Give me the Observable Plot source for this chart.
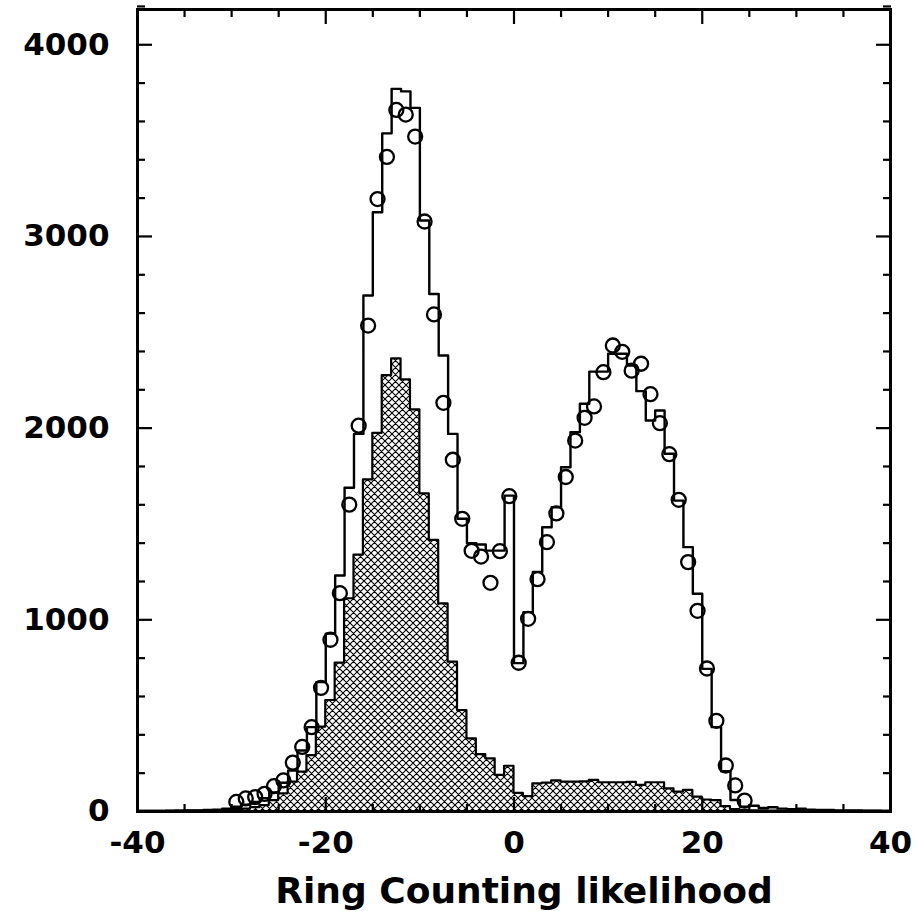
<!DOCTYPE html>
<html>
<head>
<meta charset="utf-8">
<script src="https://cdn.jsdelivr.net/npm/d3@7"></script>
<script src="https://cdn.jsdelivr.net/npm/@observablehq/plot@0.6"></script>
<style>
  html, body { margin: 0; padding: 0; background: #fff; }
</style>
</head>
<body>
<div id="chart"></div>
<script>
// Bin left edges (bin width 1) from -40 to 39
const binStarts = [
  -40,-39,-38,-37,-36,-35,-34,-33,-32,-31,
  -30,-29,-28,-27,-26,-25,-24,-23,-22,-21,
  -20,-19,-18,-17,-16,-15,-14,-13,-12,-11,
  -10,-9,-8,-7,-6,-5,-4,-3,-2,-1,
  0,1,2,3,4,5,6,7,8,9,
  10,11,12,13,14,15,16,17,18,19,
  20,21,22,23,24,25,26,27,28,29,
  30,31,32,33,34,35,36,37,38,39
];
// Open (total) histogram
const totalCounts = [
  3,3,3,4,4,5,6,8,10,15,
  25,35,50,70,100,150,214,318,440,675,
  928,1231,1689,1970,2692,3126,3538,3770,3757,3671,
  3083,2700,2379,1970,1527,1400,1393,1361,1361,1648,
  774,1040,1250,1483,1587,1796,1979,2127,2295,2295,
  2388,2388,2327,2193,2040,2092,1866,1622,1379,1136,
  744,440,210,60,25,30,18,22,15,12,
  14,10,8,8,6,6,5,4,4,3
];
// Cross-hatched histogram
const hatchedCounts = [
  1,1,1,1,2,2,2,3,3,5,
  8,12,20,31,57,92,153,205,292,440,
  579,774,1110,1337,1730,1973,2274,2361,2252,2095,
  1657,1414,1083,779,527,379,297,275,188,236,
  95,78,144,148,160,153,153,155,162,150,
  150,150,152,136,150,150,118,101,110,75,
  60,57,25,10,6,4,3,2,2,2,
  1,1,1,1,1,1,1,1,1,1
];
// Data points (open circles)
const dataX = [
  -29.5,-28.5,-27.5,-26.5,-25.5,-24.5,-23.5,-22.5,-21.5,-20.5,
  -19.5,-18.5,-17.5,-16.5,-15.5,-14.5,-13.5,-12.5,-11.5,-10.5,
  -9.5,-8.5,-7.5,-6.5,-5.5,-4.5,-3.5,-2.5,-1.5,-0.5,
  0.5,1.5,2.5,3.5,4.5,5.5,6.5,7.5,8.5,9.5,
  10.5,11.5,12.5,13.5,14.5,15.5,16.5,17.5,18.5,19.5,
  20.5,21.5,22.5,23.5,24.5
];
const dataY = [
  50,68,75,92,132,162,255,337,440,645,
  896,1139,1601,2013,2535,3195,3415,3660,3636,3521,
  3078,2593,2132,1835,1527,1360,1330,1193,1358,1645,
  776,1005,1212,1405,1555,1745,1935,2054,2113,2292,
  2431,2398,2300,2336,2177,2026,1864,1626,1301,1047,
  746,473,240,136,57
];
const xMajorTicks = [-40,-20,0,20,40];
const xMinorTicks = [-35,-30,-25,-15,-10,-5,5,10,15,25,30,35];
const yMajorTicks = [0,1000,2000,3000,4000];
const yMinorTicks = [200,400,600,800,1200,1400,1600,1800,2200,2400,2600,2800,3200,3400,3600,3800,4200];
const xTitle = "Ring Counting likelihood";

// Build step tables (append closing edge at 40)
const xMax = 40;
const totalSteps = binStarts.map((x, i) => ({x, y: totalCounts[i]}))
  .concat([{x: xMax, y: totalCounts[totalCounts.length - 1]}]);
const hatchSteps = binStarts.map((x, i) => ({x, y: hatchedCounts[i]}))
  .concat([{x: xMax, y: hatchedCounts[hatchedCounts.length - 1]}]);
const points = dataX.map((x, i) => ({x, y: dataY[i]}));

const FONT = "DejaVu Sans";
const tickStyle = {strokeWidth: 2.2, tickFormat: () => "", label: null};

const chart = Plot.plot({
  width: 917,
  height: 911,
  marginLeft: 137,
  marginRight: 27,
  marginTop: 9,
  marginBottom: 100,
  x: {domain: [-40, 40], label: null},
  y: {domain: [0, 4184], label: null},
  style: {background: "white", color: "black"},
  marks: [
    Plot.areaY(hatchSteps, {x: "x", y: "y", curve: "step-after", fill: "url(#xhatch)", stroke: "black", strokeWidth: 2.2}),
    Plot.lineY(totalSteps, {x: "x", y: "y", curve: "step-after", stroke: "black", strokeWidth: 2.4}),
    Plot.dot(points, {x: "x", y: "y", r: 7, stroke: "black", strokeWidth: 2.3, fill: "none"}),
    // inward ticks on all four sides
    Plot.axisX(xMajorTicks, {anchor: "bottom", tickSize: -14, ...tickStyle}),
    Plot.axisX(xMinorTicks, {anchor: "bottom", tickSize: -7, ...tickStyle}),
    Plot.axisX(xMajorTicks, {anchor: "top", tickSize: -14, ...tickStyle}),
    Plot.axisX(xMinorTicks, {anchor: "top", tickSize: -7, ...tickStyle}),
    Plot.axisY(yMajorTicks, {anchor: "left", tickSize: -15, ...tickStyle}),
    Plot.axisY(yMinorTicks, {anchor: "left", tickSize: -8, ...tickStyle}),
    Plot.axisY(yMajorTicks, {anchor: "right", tickSize: -15, ...tickStyle}),
    Plot.axisY(yMinorTicks, {anchor: "right", tickSize: -8, ...tickStyle}),
    // tick labels
    Plot.axisX(xMajorTicks, {anchor: "bottom", tickSize: 0, tickPadding: 19, label: null,
      tickFormat: d => String(d), fontSize: 31, fontWeight: "bold", fontFamily: FONT}),
    Plot.axisY(yMajorTicks, {anchor: "left", tickSize: 0, tickPadding: 28, label: null,
      tickFormat: d => String(d), fontSize: 31, fontWeight: "bold", fontFamily: FONT}),
    Plot.text([xTitle], {text: d => d, frameAnchor: "bottom", dy: 91, dx: 10, lineAnchor: "bottom",
      fontSize: 36, fontWeight: "bold", fontFamily: FONT}),
    Plot.frame({stroke: "black", strokeWidth: 3})
  ]
});

// cross-hatch pattern
const s = 7;
const defs = d3.select(chart).insert("defs", ":first-child");
const pat = defs.append("pattern")
  .attr("id", "xhatch")
  .attr("patternUnits", "userSpaceOnUse")
  .attr("width", s).attr("height", s);
pat.append("rect").attr("width", s).attr("height", s).attr("fill", "white");
pat.append("path")
  .attr("d", `M0,0L${s},${s}M${s},0L0,${s}M${-s/2},${s/2}L${s/2},${1.5*s}M${s/2},${-s/2}L${1.5*s},${s/2}M${s/2},${-s/2}L${-s/2},${s/2}M${1.5*s},${s/2}L${s/2},${1.5*s}`)
  .attr("stroke", "black").attr("stroke-width", 1.1).attr("fill", "none");

document.getElementById("chart").appendChild(chart);
</script>
</body>
</html>
